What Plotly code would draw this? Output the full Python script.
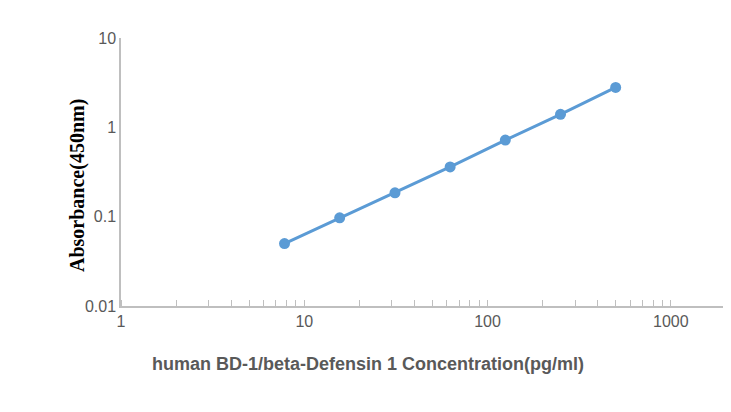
import plotly.graph_objects as go

conc = [7.8, 15.6, 31.25, 62.5, 125, 250, 500]
absorb = [0.05, 0.097, 0.185, 0.36, 0.72, 1.4, 2.8]
xticks = [1, 10, 100, 1000]
yticks = [0.01, 0.1, 1, 10]

fig = go.Figure(go.Scatter(x=conc, y=absorb, mode="lines+markers",
                           line=dict(color="#5B9BD5", width=3),
                           marker=dict(color="#5B9BD5", size=11)))
axcol = "#BFBFBF"
fig.update_layout(
    width=731, height=412, margin=dict(l=113, r=15, t=30, b=114),
    plot_bgcolor="white", paper_bgcolor="white", showlegend=False,
    font=dict(family="Liberation Sans", size=16, color="#595959"),
    xaxis=dict(type="log", range=[0, 3.29], tickvals=xticks, ticktext=[str(v) for v in xticks],
               showgrid=False, showline=True, linecolor=axcol, linewidth=1.5, zeroline=False,
               automargin=False, ticks="",
               minor=dict(ticks="inside", ticklen=6, tickcolor=axcol, dtick="D1", showgrid=False)),
    yaxis=dict(type="log", range=[-2, 1], tickvals=yticks, ticktext=["0.01", "0.1", "1", "10"],
               showgrid=False, showline=True, linecolor=axcol, linewidth=1.5, zeroline=False,
               automargin=False, ticks=""),
    annotations=[
        dict(text="human BD-1/beta-Defensin 1 Concentration(pg/ml)", xref="paper", yref="paper",
             x=0.41, y=-0.215, showarrow=False, yanchor="middle",
             font=dict(family="Liberation Sans", size=18, color="#595959", weight="bold")),
        dict(text="Absorbance(450nm)", xref="paper", yref="paper", x=-0.072, y=0.45,
             textangle=-90, showarrow=False, xanchor="center",
             font=dict(family="Liberation Serif", size=20, color="black", weight="bold")),
    ],
)
fig.write_html("out.html")
